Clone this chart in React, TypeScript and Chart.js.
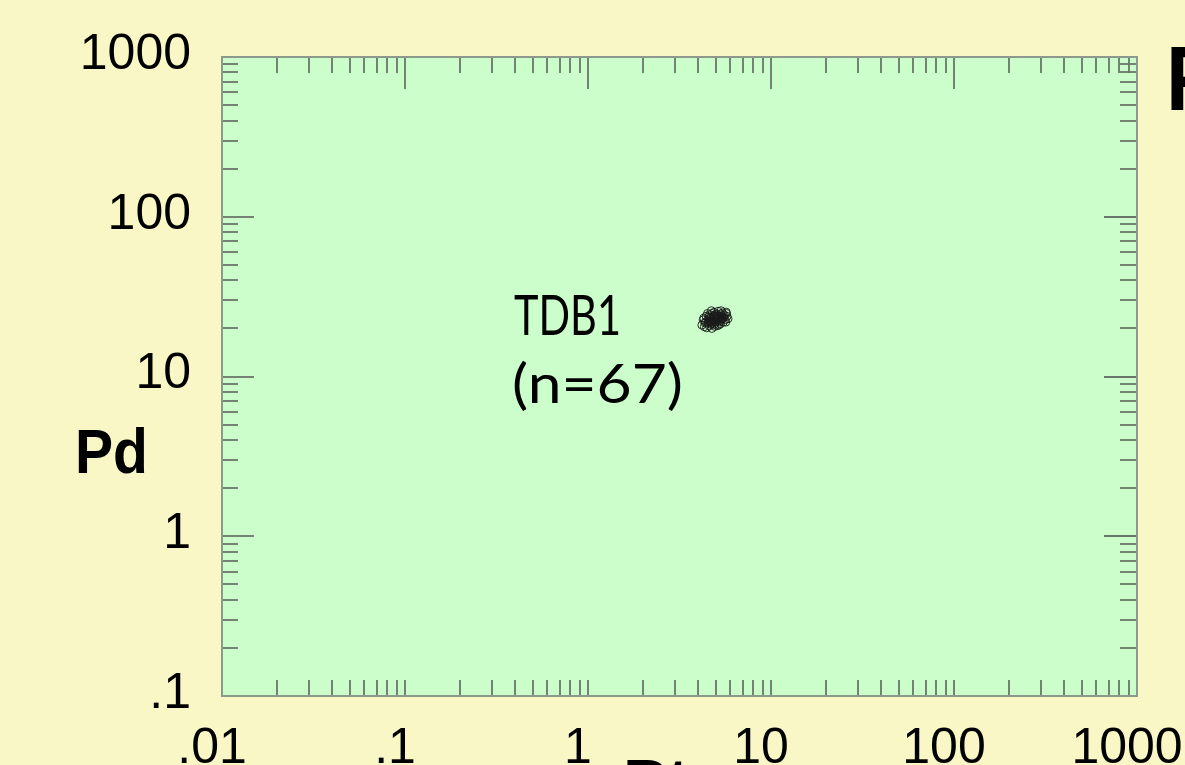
import React, { useEffect, useRef } from 'react';
import { Chart, registerables } from 'chart.js';

Chart.register(...registerables);

// ---- data ----
const ptValues = [
  4.19, 4.32, 4.39, 4.52, 4.58, 4.64, 4.71, 4.77, 4.84, 4.90,
  4.97, 5.04, 5.10, 5.17, 5.23, 5.30, 5.36, 5.43, 5.56, 5.69,
  5.75, 4.26, 4.45, 4.75, 4.93, 5.19, 5.49, 5.62, 4.62, 4.88,
  5.14, 4.42, 4.80, 5.01, 5.27, 4.68, 5.06, 5.40, 4.54, 4.86,
  4.98, 5.21, 4.72, 4.90, 5.34, 5.53, 4.37, 4.60, 5.09, 5.71,
  4.50, 4.77, 4.96, 5.25, 5.45, 4.83, 5.04, 4.67, 5.14, 5.38,
  4.57, 4.93, 5.30, 4.29, 5.66, 5.82, 4.72,
];
const pdValues = [
  21.0, 20.5, 22.0, 21.5, 23.0, 22.2, 21.2, 22.8, 23.5, 22.5,
  21.8, 23.2, 24.0, 22.9, 23.6, 24.5, 23.0, 25.0, 24.2, 25.3,
  23.8, 22.6, 20.2, 20.0, 20.6, 21.0, 21.9, 22.7, 24.4, 25.2,
  25.6, 23.8, 21.6, 22.1, 22.4, 23.4, 24.6, 24.0, 22.4, 24.0,
  23.0, 23.9, 22.0, 21.2, 25.8, 23.4, 21.6, 20.8, 20.8, 24.8,
  24.8, 24.8, 24.4, 22.0, 23.3, 22.3, 22.6, 21.8, 23.5, 22.8,
  23.6, 23.8, 21.4, 23.2, 21.9, 23.0, 25.8,
];
const xTickValues = [0.01, 0.1, 1, 10, 100, 1000];
const xTickLabels = ['.01', '.1', '1', '10', '100', '1000'];
const yTickValues = [0.1, 1, 10, 100, 1000];
const yTickLabels = ['.1', '1', '10', '100', '1000'];
const minorMultipliers = [2, 3, 4, 5, 6, 7, 8, 9];
const seriesLabel = 'TDB1';
const countLabel = '(n=67)';
const xTitle = 'Pt';
const yTitle = 'Pd';
const cornerText = 'F';

// ---- styles ----
const PAGE_BG = '#FAF7C7';
const PLOT_BG = '#CCFECC';
const FRAME = '#8E998E';
const TICK = '#6A756A';
const SANS = '"Liberation Sans", Arial, sans-serif';
const THIN = 'Lato, "Open Sans", sans-serif';

function drawFitted(
  ctx: CanvasRenderingContext2D,
  text: string,
  x: number,
  baseline: number,
  capHeight: number,
  targetWidth: number | null,
  weight: string,
  family: string,
) {
  const size = capHeight / 0.716;
  ctx.save();
  ctx.font = `${weight} ${size}px ${family}`;
  ctx.fillStyle = '#000';
  ctx.textAlign = 'left';
  ctx.textBaseline = 'alphabetic';
  const w = ctx.measureText(text).width;
  const sx = targetWidth ? targetWidth / w : 0.9;
  ctx.translate(x, baseline);
  ctx.scale(sx, 1);
  ctx.fillText(text, 0, 0);
  ctx.restore();
}

const decorPlugin = {
  id: 'decor',
  beforeDraw(chart: any) {
    const { ctx, chartArea: a, width, height } = chart;
    ctx.save();
    ctx.fillStyle = PAGE_BG;
    ctx.fillRect(0, 0, width, height);
    ctx.fillStyle = PLOT_BG;
    ctx.fillRect(a.left, a.top, a.right - a.left, a.bottom - a.top);
    ctx.restore();
  },
  beforeDatasetsDraw(chart: any) {
    const { ctx, chartArea: a } = chart;
    const xs = chart.scales.x;
    const ys = chart.scales.y;
    ctx.save();
    ctx.strokeStyle = TICK;
    ctx.lineWidth = 1.8;
    const line = (x1: number, y1: number, x2: number, y2: number) => {
      ctx.beginPath();
      ctx.moveTo(x1, y1);
      ctx.lineTo(x2, y2);
      ctx.stroke();
    };
    for (let i = 0; i < xTickValues.length - 1; i++) {
      for (const k of minorMultipliers) {
        const px = Math.round(xs.getPixelForValue(xTickValues[i] * k));
        line(px, a.top, px, a.top + 16);
        line(px, a.bottom, px, a.bottom - 16);
      }
    }
    for (const v of xTickValues) {
      const px = Math.round(xs.getPixelForValue(v));
      line(px, a.top, px, a.top + 32);
      line(px, a.bottom, px, a.bottom - 16);
    }
    for (let i = 0; i < yTickValues.length - 1; i++) {
      for (const k of minorMultipliers) {
        const py = Math.round(ys.getPixelForValue(yTickValues[i] * k));
        line(a.left, py, a.left + 16, py);
        line(a.right, py, a.right - 17, py);
      }
    }
    for (const v of yTickValues) {
      const py = Math.round(ys.getPixelForValue(v));
      line(a.left, py, a.left + 32, py);
      line(a.right, py, a.right - 33, py);
    }
    ctx.strokeStyle = FRAME;
    ctx.lineWidth = 2;
    ctx.strokeRect(a.left, a.top, a.right - a.left, a.bottom - a.top);
    ctx.restore();
  },
  afterDraw(chart: any) {
    const { ctx } = chart;
    drawFitted(ctx, seriesLabel, 514, 335, 40, 107, '400', THIN);
    drawFitted(ctx, countLabel, 512, 403, 39, 171, '400', THIN);
    drawFitted(ctx, yTitle, 75, 473, 45, 73, 'bold', SANS);
    drawFitted(ctx, cornerText, 1166, 110, 65, null, 'bold', SANS);
    drawFitted(ctx, xTitle, 623, 803, 45, 66, 'bold', SANS);
  },
};

export default function App() {
  const ref = useRef<HTMLCanvasElement>(null);
  useEffect(() => {
    document.body.style.margin = '0';
    const canvas = ref.current;
    if (!canvas) return;
    const points = ptValues.map((x, i) => ({ x, y: pdValues[i] }));
    const chart = new Chart(canvas, {
      type: 'scatter',
      data: {
        datasets: [
          {
            label: seriesLabel,
            data: points,
            pointRadius: 4,
            pointBorderWidth: 0.9,
            borderColor: '#000',
            backgroundColor: 'rgba(0,0,0,0)',
            pointBackgroundColor: 'rgba(0,0,0,0)',
            pointBorderColor: '#1a1a1a',
            showLine: false,
          },
        ],
      },
      options: {
        responsive: false,
        animation: false,
        devicePixelRatio: 1,
        layout: { padding: { top: 57, right: 48, bottom: 0, left: 0 } },
        plugins: {
          legend: { display: false },
          tooltip: { enabled: false },
        },
        scales: {
          x: {
            type: 'logarithmic',
            position: 'bottom',
            min: 0.01,
            max: 1000,
            grid: { display: false, drawTicks: false },
            border: { display: false },
            afterBuildTicks: (s: any) => {
              s.ticks = xTickValues.map((v) => ({ value: v }));
            },
            afterFit: (s: any) => {
              s.height = 69;
              s.paddingLeft = 0;
              s.paddingRight = 0;
            },
            ticks: {
              autoSkip: false,
              maxRotation: 0,
              minRotation: 0,
              padding: 23,
              labelOffset: -10,
              color: '#000',
              font: { family: SANS, size: 50 },
              callback: (_v: any, i: number) => xTickLabels[i],
            },
          },
          y: {
            type: 'logarithmic',
            position: 'left',
            min: 0.1,
            max: 1000,
            grid: { display: false, drawTicks: false },
            border: { display: false },
            afterBuildTicks: (s: any) => {
              s.ticks = yTickValues.map((v) => ({ value: v }));
            },
            afterFit: (s: any) => {
              s.width = 222;
              s.paddingTop = 0;
              s.paddingBottom = 0;
            },
            ticks: {
              autoSkip: false,
              padding: 31,
              labelOffset: -2,
              color: '#000',
              font: { family: SANS, size: 50 },
              callback: (_v: any, i: number) => yTickLabels[i],
            },
          },
        },
      },
      plugins: [decorPlugin],
    } as any);
    return () => chart.destroy();
  }, []);
  return (
    <div style={{ width: 1185, height: 765, overflow: 'hidden', background: PAGE_BG }}>
      <canvas ref={ref} width={1185} height={765} style={{ display: 'block', width: 1185, height: 765 }} />
    </div>
  );
}
